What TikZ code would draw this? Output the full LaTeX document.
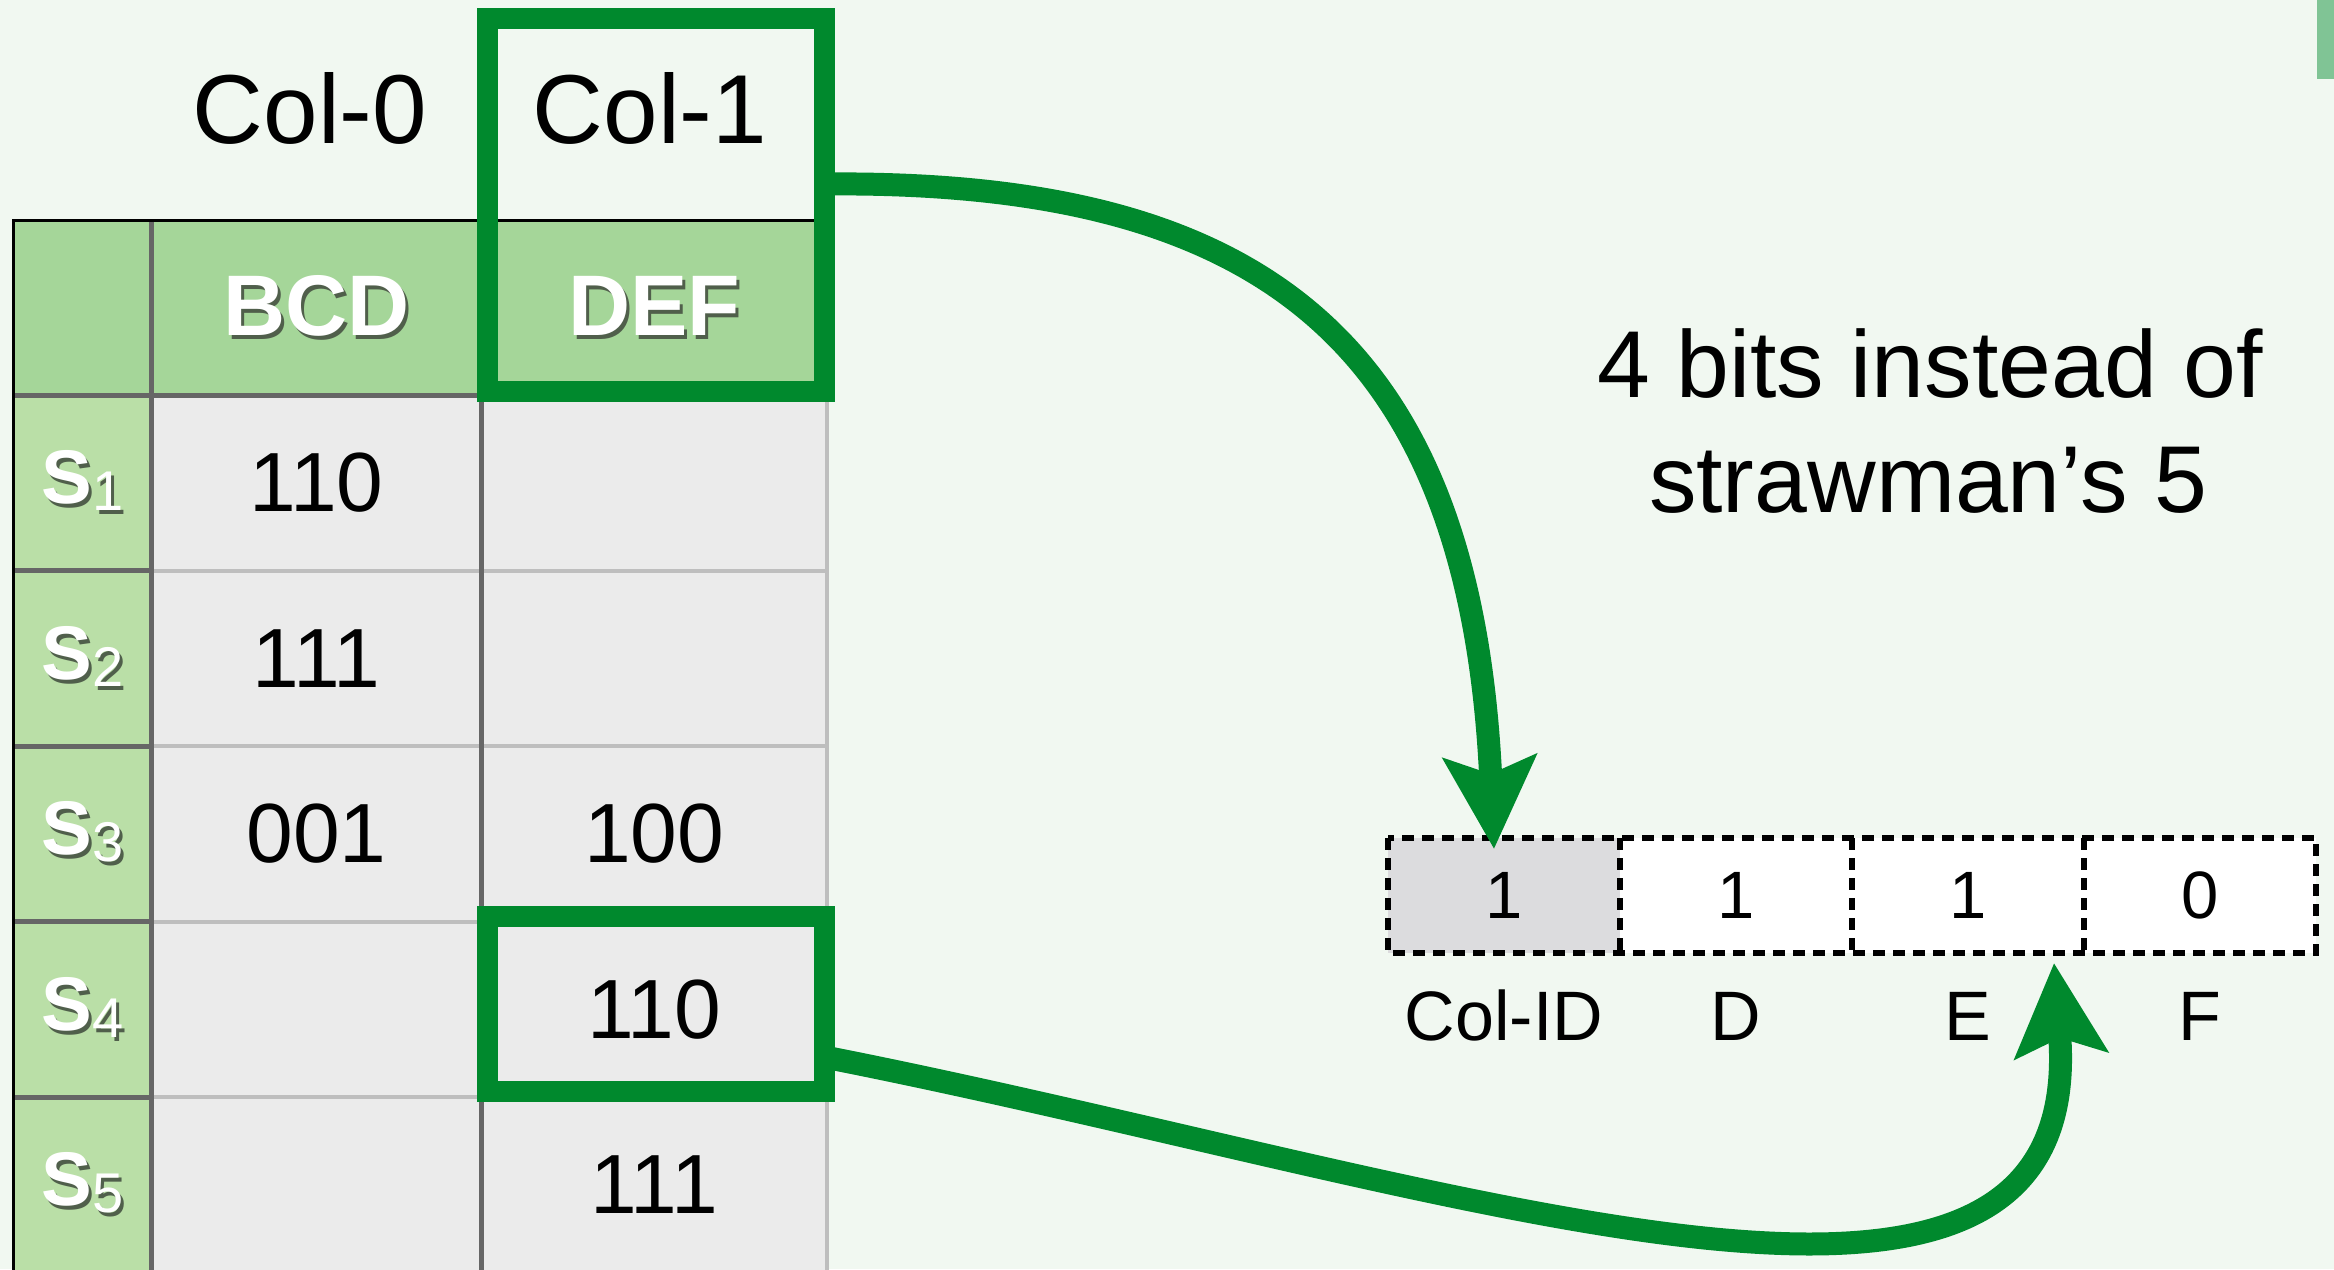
\documentclass[tikz,border=0pt]{standalone}
\usepackage{fontspec}
\setmainfont{Liberation Sans}
\usetikzlibrary{arrows.meta}
\definecolor{bgc}{RGB}{241,248,241}
\definecolor{hdrc}{RGB}{165,214,153}
\definecolor{labc}{RGB}{186,223,167}
\definecolor{cellc}{RGB}{235,235,235}
\definecolor{dgridc}{RGB}{102,102,102}
\definecolor{lgridc}{RGB}{190,190,190}
\definecolor{grc}{RGB}{0,137,45}
\definecolor{bitgrey}{RGB}{220,220,222}
\definecolor{cornerc}{RGB}{128,196,149}
\definecolor{shadowc}{RGB}{80,95,75}
\newcommand\myfs[1]{\fontsize{#1}{#1}\selectfont}
\newcommand\shd[1]{\leavevmode\rlap{\kern3pt\raisebox{-4pt}{\textcolor{shadowc}{#1}}}\textcolor{white}{#1}}
\newcommand\slab[1]{\shd{\bfseries\myfs{76}S{\mdseries\myfs{56}\raisebox{-7pt}{#1}}}}
\begin{document}
\begin{tikzpicture}[x=1pt,y=-1pt,
  every node/.style={inner sep=0pt,outer sep=0pt},
  hdrcell/.style={fill=hdrc,minimum height=175},
  labcell/.style={fill=labc,minimum width=138,minimum height=175.5},
  datcell/.style={fill=cellc,minimum height=175.5,font=\myfs{84}},
  darkline/.style={draw=dgridc,line width=5},
  lightline/.style={draw=lgridc,line width=4},
  outline/.style={draw=black,line width=3},
  hlbox/.style={draw=grc,line width=21,minimum width=337},
  bitbox/.style={minimum width=232,minimum height=115,font=\myfs{67}},
  bitdash/.style={draw=black,line width=6,dash pattern=on 12pt off 8pt},
  bitlab/.style={anchor=base,font=\myfs{70}},
  colcap/.style={font=\myfs{98}},
  bigarrow/.style={draw=grc,line width=23,-{Stealth[length=92pt,width=92pt,inset=17pt]}}]
\useasboundingbox (0,0) rectangle (2334,1269);
\fill[bgc] (0,0) rectangle (2334,1269);
\fill[cornerc] (2317,0) rectangle (2334,79);
% column captions
\node[colcap] (c0) at (310,108) {Col-0};
\node[colcap] (c1) at (650,108) {Col-1};
% header row
\node[hdrcell,minimum width=138] (hL) at (82.5,307.5) {};
\node[hdrcell,minimum width=330] (hB) at (316.5,307.5) {\shd{\bfseries\myfs{86}BCD}};
\node[hdrcell,minimum width=345.5] (hD) at (654.25,307.5) {\shd{\bfseries\myfs{86}DEF}};
% rows
\node[labcell] (l1) at (82.5,482.75) {\slab{1}};
\node[labcell] (l2) at (82.5,658.25) {\slab{2}};
\node[labcell] (l3) at (82.5,833.75) {\slab{3}};
\node[labcell] (l4) at (82.5,1009.25) {\slab{4}};
\node[labcell] (l5) at (82.5,1184.75) {\slab{5}};
\node[datcell,minimum width=330] (a1) at (316.5,482.75) {110};
\node[datcell,minimum width=330] (a2) at (316.5,658.25) {111};
\node[datcell,minimum width=330] (a3) at (316.5,833.75) {001};
\node[datcell,minimum width=330] (a4) at (316.5,1009.25) {};
\node[datcell,minimum width=330] (a5) at (316.5,1184.75) {};
\node[datcell,minimum width=345.5] (b1) at (654.25,482.75) {};
\node[datcell,minimum width=345.5] (b2) at (654.25,658.25) {};
\node[datcell,minimum width=345.5] (b3) at (654.25,833.75) {100};
\node[datcell,minimum width=345.5] (b4) at (654.25,1009.25) {110};
\node[datcell,minimum width=345.5] (b5) at (654.25,1184.75) {111};
% grid
\draw[lightline] (a1.south west) -- (b1.south east);
\draw[lightline] (a2.south west) -- (b2.south east);
\draw[lightline] (a3.south west) -- (b3.south east);
\draw[lightline] (a4.south west) -- (b4.south east);
\draw[lightline] (b1.north east) -- (b5.south east);
\draw[darkline] (l1.south west) -- (l1.south east);
\draw[darkline] (l2.south west) -- (l2.south east);
\draw[darkline] (l3.south west) -- (l3.south east);
\draw[darkline] (l4.south west) -- (l4.south east);
\draw[darkline] (hL.south west) -- (hD.south east);
\draw[darkline] (hL.north east) -- (l5.south east);
\draw[darkline] (hB.north east) -- (a5.south east);
\draw[outline] (hD.north east) -- (hL.north west) -- (l5.south west);
% highlight boxes
\node[hlbox,minimum height=373] (hl1) at (656,205) {};
\node[hlbox,minimum height=175] (hl2) at (656,1004) {};
% bit vector
\node[bitbox,fill=bitgrey] (k0) at (1504,895.5) {1};
\node[bitbox,fill=white] (k1) at (1736,895.5) {1};
\node[bitbox,fill=white] (k2) at (1968,895.5) {1};
\node[bitbox,fill=white] (k3) at (2200,895.5) {0};
\draw[bitdash] (k0.north west) rectangle (k3.south east);
\draw[bitdash] (k0.north east) -- (k0.south east);
\draw[bitdash] (k1.north east) -- (k1.south east);
\draw[bitdash] (k2.north east) -- (k2.south east);
\node[bitlab] (t0) at (1504,1040) {Col-ID};
\node[bitlab] (t1) at (1736,1040) {D};
\node[bitlab] (t2) at (1968,1040) {E};
\node[bitlab] (t3) at (2200,1040) {F};
% note
\node[anchor=base,font=\myfs{95}] (n1) at (1930,397) {4 bits instead of};
\node[anchor=base,font=\myfs{95}] (n2) at (1928,512) {strawman’s 5};
% arrows
\draw[bigarrow] ([yshift=21pt]hl1.east) .. controls +(425,-4) and +(-24,-519) .. ([xshift=-10pt,yshift=-11pt]k0.north);
\draw[bigarrow] ([yshift=-53pt]hl2.east) .. controls +(625,123) and +(36,457) .. ([xshift=-30pt,yshift=-10pt]k2.south east);
\end{tikzpicture}
\end{document}
